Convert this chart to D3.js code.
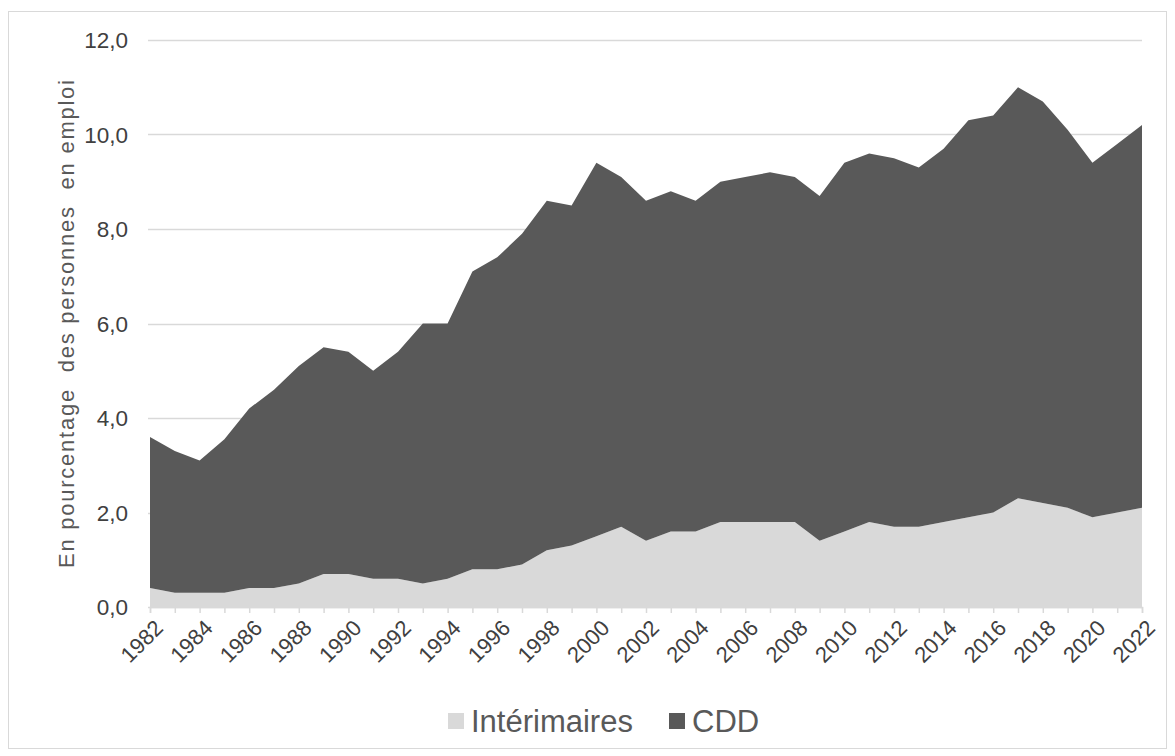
<!DOCTYPE html>
<html>
<head>
<meta charset="utf-8">
<script src="https://cdn.jsdelivr.net/npm/d3@7"></script>
<style>
  body { margin: 0; background: #fff; }
  text { font-family: "Liberation Sans", Arial, sans-serif; }
</style>
</head>
<body>
<svg id="chart" width="1175" height="756"></svg>
<script>
// données (en % des personnes en emploi)
let years = d3.range(1982, 2023);
let interimaires = [0.4, 0.3, 0.3, 0.3, 0.4, 0.4, 0.5, 0.7, 0.7, 0.6,
                    0.6, 0.5, 0.6, 0.8, 0.8, 0.9, 1.2, 1.3, 1.5, 1.7,
                    1.4, 1.6, 1.6, 1.8, 1.8, 1.8, 1.8, 1.4, 1.6, 1.8,
                    1.7, 1.7, 1.8, 1.9, 2.0, 2.3, 2.2, 2.1, 1.9, 2.0, 2.1];
let cdd = [3.2, 3.0, 2.8, 3.25, 3.8, 4.2, 4.6, 4.8, 4.7, 4.4,
           4.8, 5.5, 5.4, 6.3, 6.6, 7.0, 7.4, 7.2, 7.9, 7.4,
           7.2, 7.2, 7.0, 7.2, 7.3, 7.4, 7.3, 7.3, 7.8, 7.8,
           7.8, 7.6, 7.9, 8.4, 8.4, 8.7, 8.5, 8.0, 7.5, 7.8, 8.1];
let yTicks = [0, 2, 4, 6, 8, 10, 12];
let xLabels = d3.range(1982, 2023, 2);
let seriesNames = ["Intérimaires", "CDD"];
let colors = ["#d9d9d9", "#595959"];

let svg = d3.select("#chart");

let x = d3.scaleLinear().domain([1982, 2022]).range([150, 1142]),
    y = d3.scaleLinear().domain([0, 12]).range([607, 40]);

let fmt = function(d) { return d3.format(".1f")(d).replace(".", ","); };

// cadre
svg.append("rect")
    .attr("x", 8.5).attr("y", 11.5)
    .attr("width", 1158).attr("height", 737)
    .attr("fill", "#fff")
    .attr("stroke", "#d9d9d9");

// grille horizontale
svg.append("g")
    .selectAll("line")
    .data(yTicks)
    .enter().append("line")
    .attr("x1", 148).attr("x2", 1142)
    .attr("y1", function(d) { return Math.round(y(d)) + 0.5; })
    .attr("y2", function(d) { return Math.round(y(d)) + 0.5; })
    .attr("stroke", "#d9d9d9")
    .attr("stroke-width", 1.5);

// étiquettes axe y
svg.append("g")
    .selectAll("text")
    .data(yTicks)
    .enter().append("text")
    .attr("x", 128)
    .attr("y", function(d) { return y(d); })
    .attr("dy", "0.36em")
    .attr("text-anchor", "end")
    .attr("font-size", "22.5px")
    .attr("fill", "#404040")
    .text(fmt);

// aires empilées
let table = years.map(function(yr, i) {
    return { year: yr, "Intérimaires": interimaires[i], "CDD": cdd[i] };
});
let stacked = d3.stack().keys(seriesNames)(table);

let area = d3.area()
    .x(function(d) { return x(d.data.year); })
    .y0(function(d) { return y(d[0]); })
    .y1(function(d) { return y(d[1]); });

svg.append("g")
    .selectAll("path")
    .data(stacked)
    .enter().append("path")
    .attr("fill", function(d, i) { return colors[i]; })
    .attr("d", area);

// axe x
let xAxis = svg.append("g")
    .attr("transform", "translate(0," + 607 + ")")
    .call(d3.axisBottom(x).tickValues(years).tickSize(6).tickFormat(""));
xAxis.select(".domain").attr("stroke", "#d9d9d9").attr("stroke-width", 1.5);
xAxis.selectAll(".tick line").attr("stroke", "#d9d9d9").attr("stroke-width", 1.5);

svg.append("g")
    .selectAll("text")
    .data(xLabels)
    .enter().append("text")
    .attr("transform", function(d) {
        return "translate(" + (x(d) + 9) + "," + 624 + ") rotate(-45)";
    })
    .attr("text-anchor", "end")
    .attr("dy", "0.35em")
    .attr("font-size", "22px")
    .attr("fill", "#404040")
    .text(function(d) { return d; });

// titre axe y
svg.append("text")
    .attr("transform", "translate(74," + 324 + ") rotate(-90)")
    .attr("text-anchor", "middle")
    .attr("font-size", "22px")
    .attr("fill", "#595959")
    .attr("textLength", 488)
    .attr("lengthAdjust", "spacing")
    .style("white-space", "pre")
    .text("En pourcentage  des personnes  en emploi");

// légende
let legendX = [448, 669];
let legend = svg.append("g")
    .selectAll("g")
    .data(seriesNames)
    .enter().append("g")
    .attr("transform", function(d, i) { return "translate(" + legendX[i] + ",713)"; });
legend.append("rect")
    .attr("width", 16).attr("height", 16)
    .attr("fill", function(d, i) { return colors[i]; });
legend.append("text")
    .attr("x", 23).attr("y", 8)
    .attr("dy", "0.36em")
    .attr("font-size", "31px")
    .attr("fill", "#595959")
    .text(function(d) { return d; });
</script>
</body>
</html>
